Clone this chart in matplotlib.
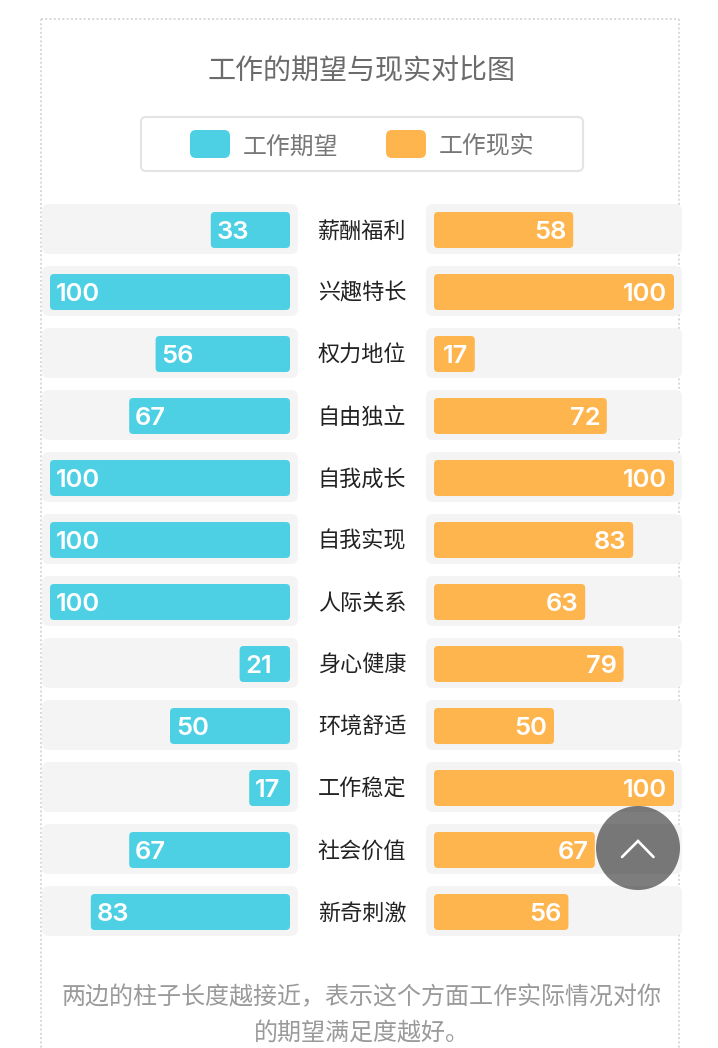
import matplotlib
matplotlib.use("Agg")
import matplotlib.pyplot as plt
from matplotlib.patches import FancyBboxPatch, Circle

plt.rcParams['font.family'] = ['Noto Sans CJK SC', 'DejaVu Sans']

categories = ["薪酬福利", "兴趣特长", "权力地位", "自由独立", "自我成长", "自我实现",
              "人际关系", "身心健康", "环境舒适", "工作稳定", "社会价值", "新奇刺激"]
expected = [33, 100, 56, 67, 100, 100, 100, 21, 50, 17, 67, 83]
reality = [58, 100, 17, 72, 100, 83, 63, 79, 50, 100, 67, 56]
title = "工作的期望与现实对比图"
legend_labels = ["工作期望", "工作现实"]
note_lines = ["两边的柱子长度越接近，表示这个方面工作实际情况对你", "的期望满足度越好。"]

W, H = 718, 1048
CYAN, ORANGE = "#4dd0e3", "#ffb54d"
TRACK = "#f4f4f4"
fig = plt.figure(figsize=(W / 100, H / 100), dpi=100, facecolor="white")


def px_axes(zorder):
    a = fig.add_axes([0, 0, 1, 1], zorder=zorder)
    a.set_xlim(0, W)
    a.set_ylim(H, 0)
    a.axis("off")
    a.patch.set_alpha(0)
    return a


def rbox(a, x, y, w, h, r, **kw):
    p = FancyBboxPatch((x, y), w, h, boxstyle=f"round,pad=0,rounding_size={r}", **kw)
    a.add_patch(p)
    return p


bg = px_axes(0)
for x in (41, 679):
    bg.plot([x, x], [19, H], color="#d8d8d8", lw=1.4, ls=(0, (1, 1.2)))
bg.plot([41, 679], [19, 19], color="#d8d8d8", lw=1.4, ls=(0, (1, 1.2)))
bg.text(361.5, 71.5, title, ha="center", va="center", fontsize=20.2, color="#6b6b6b", fontweight="light")
rbox(bg, 141, 117, 442, 54, 5, fc="white", ec="#e4e4e4", lw=1.5)
rbox(bg, 190, 130, 40, 28, 6, fc=CYAN, ec="none")
rbox(bg, 386, 130, 40, 28, 6, fc=ORANGE, ec="none")
bg.text(242.5, 147, legend_labels[0], ha="left", va="center", fontsize=17.2, color="#777777", fontweight="light")
bg.text(438.5, 147, legend_labels[1], ha="left", va="center", fontsize=17.2, color="#777777", fontweight="light")
for yy, line in zip((997, 1033), note_lines):
    bg.text(362, yy, line, ha="center", va="center", fontsize=17.3, color="#9a9a9a", fontweight="light")

ROW = 62
TOP = 199
n = len(categories)
PX = 2.4  # pixels per value unit
ASP = PX / ROW


def bar_axes(x0, inverted):
    a = fig.add_axes([x0 / W, 1 - (TOP + ROW * n) / H, 240 / W, ROW * n / H], zorder=1)
    a.set_xlim(100, 0) if inverted else a.set_xlim(0, 100)
    a.set_ylim(n - 0.5, -0.5)
    a.axis("off")
    a.patch.set_alpha(0)
    return a


def drbox(a, x, y, w, h, r, **kw):
    p = FancyBboxPatch((x, y), w, h, boxstyle=f"round,pad=0,rounding_size={r / PX}",
                       mutation_aspect=ASP, clip_on=False, **kw)
    a.add_patch(p)


axL = bar_axes(50, True)
axR = bar_axes(434, False)
pad = 8 / PX
th, bh = 50 / ROW, 36 / ROW
shift = 1 / ROW
lift = 2 / ROW
for a, vals, col in ((axL, expected, CYAN), (axR, reality, ORANGE)):
    for i, v in enumerate(vals):
        drbox(a, -pad, i - th / 2 - shift, 100 + 2 * pad, th, 7, fc=TRACK, ec="none", zorder=1)
        drbox(a, 0, i - bh / 2, v, bh, 4, fc=col, ec="none", zorder=2)
        if a is axL:
            a.text(v - 6 / PX, i + 0.01 + lift, str(v), ha="left", va="center", color="white",
                   fontsize=18.4, family="Inter", fontweight="semibold", zorder=3)
        else:
            a.text(v - 6.5 / PX, i + 0.01 + lift, str(v), ha="right", va="center", color="white",
                   fontsize=18.4, family="Inter", fontweight="semibold", zorder=3)

for i, c in enumerate(categories):
    bg.text(362, TOP + ROW * (i + 0.5) + 1.5, c, ha="center", va="center", fontsize=15.9,
            color="#222222", fontweight="light")

top = px_axes(3)
top.add_patch(Circle((638, 848), 42, fc="#000000", ec="none", alpha=0.51))
top.plot([622, 638, 653.5], [857, 841, 857], color="white", lw=1.9, solid_capstyle="round", solid_joinstyle="miter")

fig.savefig("out.png", dpi=100, facecolor="white")
